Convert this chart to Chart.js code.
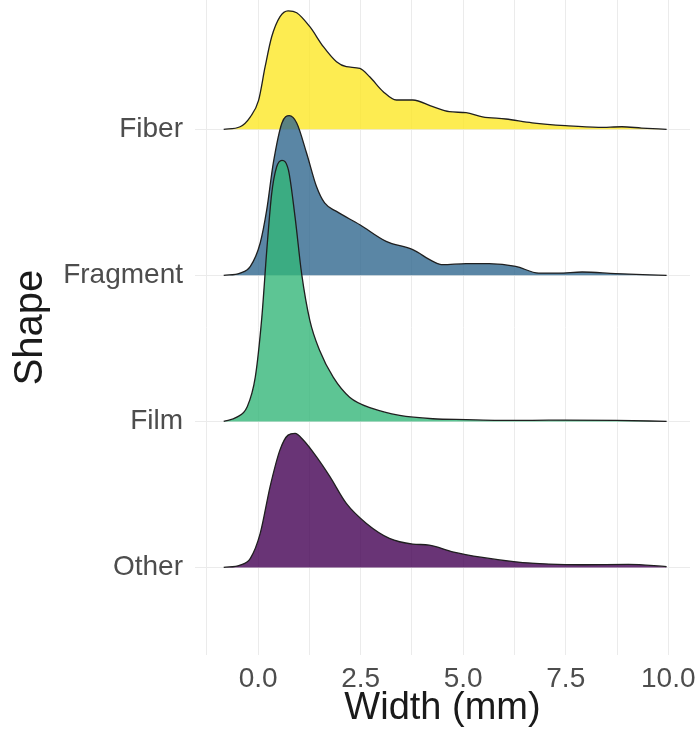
<!DOCTYPE html>
<html><head><meta charset="utf-8">
<script src="https://cdn.jsdelivr.net/npm/chart.js@4.4.1/dist/chart.umd.min.js"></script>
<style>html,body{margin:0;padding:0;background:#fff;} #wrap{width:699px;height:732px;}</style>
</head><body><div id="wrap"><canvas id="c" width="699" height="732"></canvas></div>
<script>
// Categories from bottom (1) to top (4)
const categories = ['Other', 'Film', 'Fragment', 'Fiber'];
const xTickValues = [-1.25, 0, 1.25, 2.5, 3.75, 5, 6.25, 7.5, 8.75, 10];
const xLabelValues = [0, 2.5, 5, 7.5, 10];

// Width (mm) sample points and ridge heights (in row units)
const fiberX = [-0.84, -0.44, -0.19, 0.01, 0.17, 0.33, 0.53, 0.73, 0.94, 1.26, 1.59, 1.91, 2.15, 2.48, 2.72, 3.05, 3.37, 3.77, 4.26, 4.66, 5.07, 5.47, 6.04, 6.68, 7.49, 8.30, 8.87, 9.35, 9.96];
const fiberH = [0, 0.018, 0.086, 0.199, 0.429, 0.634, 0.771, 0.812, 0.799, 0.703, 0.566, 0.463, 0.429, 0.418, 0.360, 0.258, 0.201, 0.201, 0.155, 0.121, 0.114, 0.086, 0.071, 0.045, 0.025, 0.014, 0.018, 0.009, 0];

const fragmentX = [-0.84, -0.44, -0.19, 0.05, 0.21, 0.37, 0.58, 0.76, 0.94, 1.18, 1.42, 1.62, 1.91, 2.48, 3.12, 3.77, 4.26, 4.50, 5.07, 5.63, 6.28, 6.84, 7.33, 7.90, 8.71, 9.96];
const fragmentH = [0, 0.016, 0.062, 0.222, 0.45, 0.77, 1.044, 1.094, 1.044, 0.838, 0.610, 0.496, 0.438, 0.347, 0.233, 0.176, 0.096, 0.073, 0.080, 0.080, 0.062, 0.016, 0.016, 0.023, 0.012, 0];

const filmX = [-0.84, -0.52, -0.27, -0.07, 0.09, 0.21, 0.33, 0.45, 0.58, 0.74, 0.90, 1.06, 1.26, 1.50, 1.83, 2.23, 2.80, 3.45, 4.26, 5.07, 5.87, 6.68, 7.49, 8.71, 9.96];
const filmH = [0, 0.029, 0.098, 0.303, 0.714, 1.171, 1.560, 1.742, 1.788, 1.719, 1.399, 1.012, 0.692, 0.486, 0.303, 0.166, 0.087, 0.041, 0.018, 0.012, 0.007, 0.007, 0.009, 0.007, 0];

const otherX = [-0.84, -0.44, -0.19, 0.05, 0.29, 0.53, 0.73, 0.90, 1.10, 1.42, 1.75, 2.15, 2.64, 3.20, 3.77, 4.17, 4.74, 5.47, 6.28, 7.09, 7.90, 9.03, 9.96];
const otherH = [0, 0.016, 0.062, 0.233, 0.552, 0.803, 0.906, 0.918, 0.872, 0.758, 0.621, 0.438, 0.301, 0.199, 0.160, 0.153, 0.107, 0.068, 0.038, 0.023, 0.018, 0.021, 0.005];

const fillColors = {
  Other: 'rgba(68,1,84,0.8)',
  Film: 'rgba(53,183,121,0.8)',
  Fragment: 'rgba(49,104,142,0.8)',
  Fiber: 'rgba(253,231,37,0.8)'
};

function ridge(name, xs, hs) {
  const base = categories.indexOf(name) + 1;
  return {
    label: name,
    data: xs.map((x, i) => ({ x: x, y: base + hs[i] })),
    fill: { value: base },
    backgroundColor: fillColors[name],
    borderColor: '#1f1f1f',
    borderWidth: 1.3,
    pointRadius: 0,
    cubicInterpolationMode: 'monotone'
  };
}

// First dataset is drawn on top in Chart.js
const datasets = [
  ridge('Other', otherX, otherH),
  ridge('Film', filmX, filmH),
  ridge('Fragment', fragmentX, fragmentH),
  ridge('Fiber', fiberX, fiberH)
];

const FONT = "'Liberation Sans', Arial, sans-serif";

new Chart(document.getElementById('c'), {
  type: 'line',
  data: { datasets: datasets },
  options: {
    responsive: false,
    animation: false,
    layout: { padding: { left: 0, right: 9, top: 0, bottom: 0 } },
    plugins: { legend: { display: false }, tooltip: { enabled: false } },
    scales: {
      x: {
        type: 'linear',
        min: -1.54,
        max: 10.53,
        afterBuildTicks: (s) => { s.ticks = xTickValues.map(v => ({ value: v })); },
        afterFit: (s) => { s.height = 77; s.paddingLeft = 0; s.paddingRight = 0; },
        ticks: {
          autoSkip: false,
          maxRotation: 0,
          padding: 7,
          color: '#4d4d4d',
          font: { family: FONT, size: 28 },
          callback: (v) => xLabelValues.includes(v) ? v.toFixed(1) : ''
        },
        grid: { color: '#ebebeb', lineWidth: 1, drawTicks: false },
        border: { display: false },
        title: {
          display: true,
          text: 'Width (mm)',
          color: '#1a1a1a',
          font: { family: FONT, size: 38 },
          padding: { top: 0, bottom: 1 }
        }
      },
      y: {
        type: 'linear',
        min: 0.4,
        max: 4.886,
        afterBuildTicks: (s) => { s.ticks = categories.map((c, i) => ({ value: i + 1 })); },
        afterFit: (s) => { s.width = 195; s.paddingTop = 0; s.paddingBottom = 0; },
        ticks: {
          autoSkip: false,
          padding: 12,
          color: '#4d4d4d',
          font: { family: FONT, size: 28 },
          callback: (v) => categories[v - 1] || ''
        },
        grid: { color: '#ebebeb', lineWidth: 1, drawTicks: false },
        border: { display: false },
        title: {
          display: true,
          text: 'Shape',
          color: '#1a1a1a',
          font: { family: FONT, size: 40 },
          padding: { top: 7, bottom: 0 }
        }
      }
    }
  }
});
</script>
</body></html>
